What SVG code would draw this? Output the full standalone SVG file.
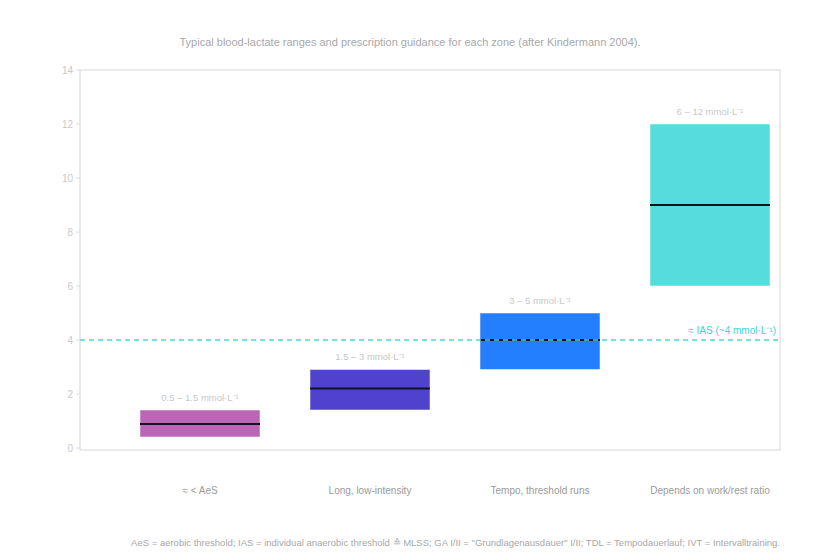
<svg xmlns="http://www.w3.org/2000/svg" width="820" height="560" viewBox="0 0 820 560">
<style>
text{font-family:"Liberation Sans",Arial,sans-serif}
.t{fill:#b0b0b0;font-size:10px}
.tick{fill:#c8c8c8;font-size:10px;text-anchor:end}
.xl{fill:#9a9a9a;font-size:10px;text-anchor:middle}
.bl{fill:#c8c8c8;font-size:9.5px;text-anchor:middle}
.med{stroke:#111122;stroke-width:2}
.bar{stroke:#ffffff;stroke-opacity:.5;stroke-width:1}
</style>
<rect width="820" height="560" fill="#fff"/>
<text x="410" y="46" text-anchor="middle" class="t" style="font-size:11px;fill:#a8a8a8">Typical blood-lactate ranges and prescription guidance for each zone (after Kindermann 2004).</text>
<g id="axes">
<rect x="80" y="70" width="700" height="380" fill="none" stroke="#e4e4e4" stroke-width="1.5"/>
<g stroke="#dcdcdc"><line x1="76" y1="448" x2="80" y2="448"/><line x1="76" y1="394" x2="80" y2="394"/><line x1="76" y1="340" x2="80" y2="340"/><line x1="76" y1="286" x2="80" y2="286"/><line x1="76" y1="232" x2="80" y2="232"/><line x1="76" y1="178" x2="80" y2="178"/><line x1="76" y1="124" x2="80" y2="124"/><line x1="76" y1="70" x2="80" y2="70"/></g>
<text class="tick" x="73" y="452">0</text><text class="tick" x="73" y="398">2</text><text class="tick" x="73" y="344">4</text><text class="tick" x="73" y="290">6</text><text class="tick" x="73" y="236">8</text><text class="tick" x="73" y="182">10</text><text class="tick" x="73" y="128">12</text><text class="tick" x="73" y="74">14</text>
</g>
<g id="bar1"><rect class="bar" x="140" y="410" width="120" height="27" fill="#bb66b6"/><line class="med" x1="140" y1="424" x2="260" y2="424"/><text class="bl" x="200" y="401">0.5 – 1.5 mmol·L⁻¹</text></g>
<g id="bar2"><rect class="bar" x="310" y="369.5" width="120" height="40.5" fill="#4f42cc"/><line class="med" x1="310" y1="388.5" x2="430" y2="388.5"/><text class="bl" x="370" y="360">1.5 – 3 mmol·L⁻¹</text></g>
<g id="bar3"><rect class="bar" x="480" y="313" width="120" height="56.5" fill="#247ffe"/><line class="med" x1="480" y1="340" x2="600" y2="340"/><text class="bl" x="540" y="304">3 – 5 mmol·L⁻¹</text></g>
<g id="bar4"><rect class="bar" x="650" y="124" width="120" height="162" fill="#55dddc"/><line class="med" x1="650" y1="205" x2="770" y2="205"/><text class="bl" x="710" y="115">6 – 12 mmol·L⁻¹</text></g>
<g id="ias"><line x1="80" y1="340" x2="780" y2="340" stroke="#4ed8d8" stroke-width="1.5" stroke-dasharray="5,4"/><text x="776" y="334" text-anchor="end" style="fill:#3dd4d4;font-size:10px">≈ IAS (~4 mmol·L⁻¹)</text></g>
<g id="xlabels"><text class="xl" x="200" y="494">≈ &lt; AeS</text><text class="xl" x="370" y="494">Long, low-intensity</text><text class="xl" x="540" y="494">Tempo, threshold runs</text><text class="xl" x="710" y="494">Depends on work/rest ratio</text></g>
<text x="780" y="546" text-anchor="end" style="fill:#a8a8a8;font-size:9.5px">AeS = aerobic threshold; IAS = individual anaerobic threshold ≙ MLSS; GA I/II = "Grundlagenausdauer" I/II; TDL = Tempodauerlauf; IVT = Intervalltraining.</text>
</svg>
